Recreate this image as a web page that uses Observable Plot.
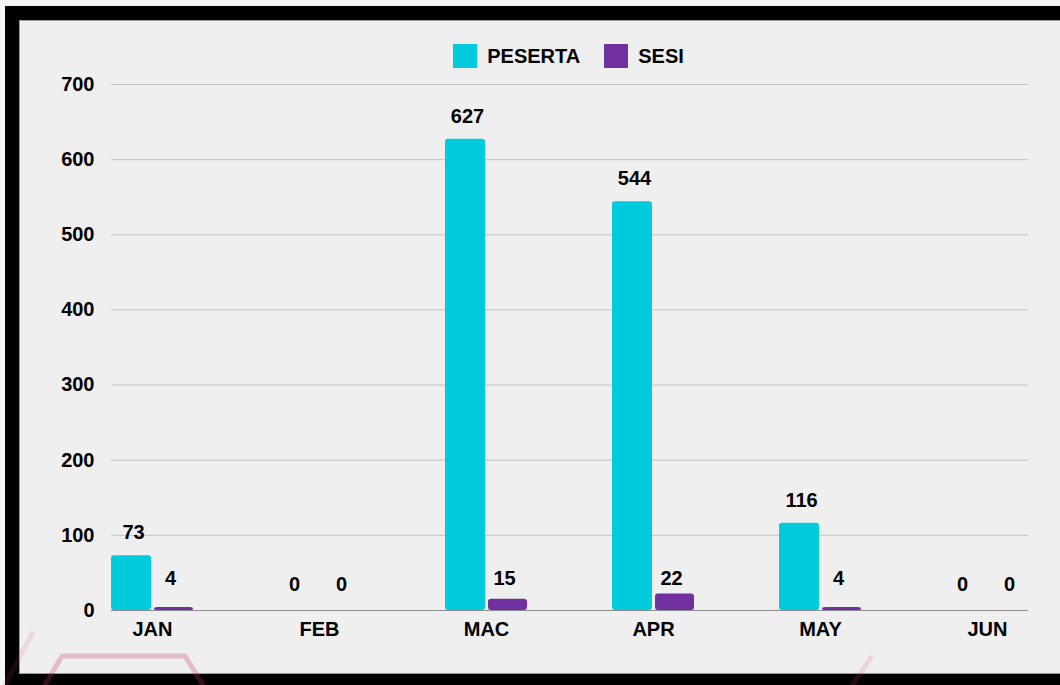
<!DOCTYPE html>
<html>
<head>
<meta charset="utf-8">
<script src="https://cdn.jsdelivr.net/npm/d3@7"></script>
<script src="https://cdn.jsdelivr.net/npm/@observablehq/plot@0.6"></script>
<style>
  html, body { margin: 0; padding: 0; background: #f6f6f6; width: 1060px; height: 685px; overflow: hidden; }
  body { font-family: "Liberation Sans", Arial, sans-serif; }
  #frame {
    position: absolute; left: 5px; top: 6px;
    width: 1100px; height: 654px;
    border: 14px solid #000;
    background: #efefef;
    box-shadow: inset 0 0 0 1px #9a9a9a;
  }
  #legend {
    position: absolute; left: 91px; top: 24px; width: 917px; height: 24px;
    display: flex; justify-content: center; align-items: center;
    font-weight: bold; font-size: 20px; color: #000;
  }
  .item { display: flex; align-items: center; margin: 0 12px; }
  .sw { width: 24px; height: 24px; margin-right: 10px; }
  #chart { position: absolute; left: 0; top: 52px; }
  #deco { position: absolute; left: 0; top: 0; pointer-events: none; }
</style>
</head>
<body>
<div id="frame">
  <div id="legend"></div>
  <div id="chart"></div>
</div>
<svg id="deco" width="1060" height="685">
  <polyline points="42,690 62,656 185,656 206,690" fill="none" stroke="#c8306e" stroke-opacity="0.27" stroke-width="5"/>
  <line x1="33" y1="632" x2="2" y2="690" stroke="#e0407e" stroke-opacity="0.13" stroke-width="5"/>
  <line x1="872" y1="656" x2="849" y2="690" stroke="#e0407e" stroke-opacity="0.16" stroke-width="5"/>
</svg>
<script>
const months = ["JAN", "FEB", "MAC", "APR", "MAY", "JUN"];
const peserta = [73, 0, 627, 544, 116, 0];
const sesi = [4, 0, 15, 22, 4, 0];
const yTicks = [0, 100, 200, 300, 400, 500, 600, 700];
const seriesNames = ["PESERTA", "SESI"];
const seriesColors = ["#00cadb", "#7030a0"];

const rows = months.map((m, i) => ({month: m, peserta: peserta[i], sesi: sesi[i]}));

// legend
const legend = document.getElementById("legend");
seriesNames.forEach((name, i) => {
  const item = document.createElement("div");
  item.className = "item";
  const sw = document.createElement("div");
  sw.className = "sw";
  sw.style.background = seriesColors[i];
  const label = document.createElement("span");
  label.textContent = name;
  item.appendChild(sw);
  item.appendChild(label);
  legend.appendChild(item);
});

const chart = Plot.plot({
  width: 1040,
  height: 588,
  marginLeft: 92,
  marginRight: 31,
  marginTop: 12,
  marginBottom: 50,
  style: {
    fontFamily: "'Liberation Sans', Arial, sans-serif",
    fontSize: "20px",
    fontWeight: "bold",
    color: "#000",
    background: "transparent",
    overflow: "visible"
  },
  x: {domain: months, paddingInner: 0.509, paddingOuter: 0},
  y: {domain: [0, 700]},
  marks: [
    Plot.ruleY(yTicks.filter(v => v > 0), {stroke: "#c3c3c3", strokeWidth: 1}),
    Plot.barY(rows, {x: "month", y: "peserta", fill: seriesColors[0], insetRight: 42, rx: 3}),
    Plot.barY(rows, {x: "month", y: "sesi", fill: seriesColors[1], insetLeft: 43, rx: 3}),
    Plot.ruleY([0], {stroke: "#8c8c8c", strokeWidth: 1.2}),
    Plot.text(rows.filter(d => d.peserta > 0), {x: "month", y: "peserta", text: d => String(d.peserta), dx: -19, dy: -23, fill: "#000"}),
    Plot.text(rows.filter(d => d.sesi > 0), {x: "month", y: () => 0, text: d => String(d.sesi), dx: 18, dy: -32, fill: "#000"}),
    Plot.text(rows.filter(d => d.peserta === 0), {x: "month", y: () => 0, text: d => String(d.peserta), dx: -25, dy: -26, fill: "#000"}),
    Plot.text(rows.filter(d => d.sesi === 0), {x: "month", y: () => 0, text: d => String(d.sesi), dx: 22, dy: -26, fill: "#000"}),
    Plot.axisY({ticks: yTicks, tickSize: 0, tickPadding: 17, label: null, fill: "#000"}),
    Plot.axisX({tickSize: 0, tickPadding: 11, label: null, fill: "#000"})
  ]
});
document.getElementById("chart").appendChild(chart);
</script>
</body>
</html>
